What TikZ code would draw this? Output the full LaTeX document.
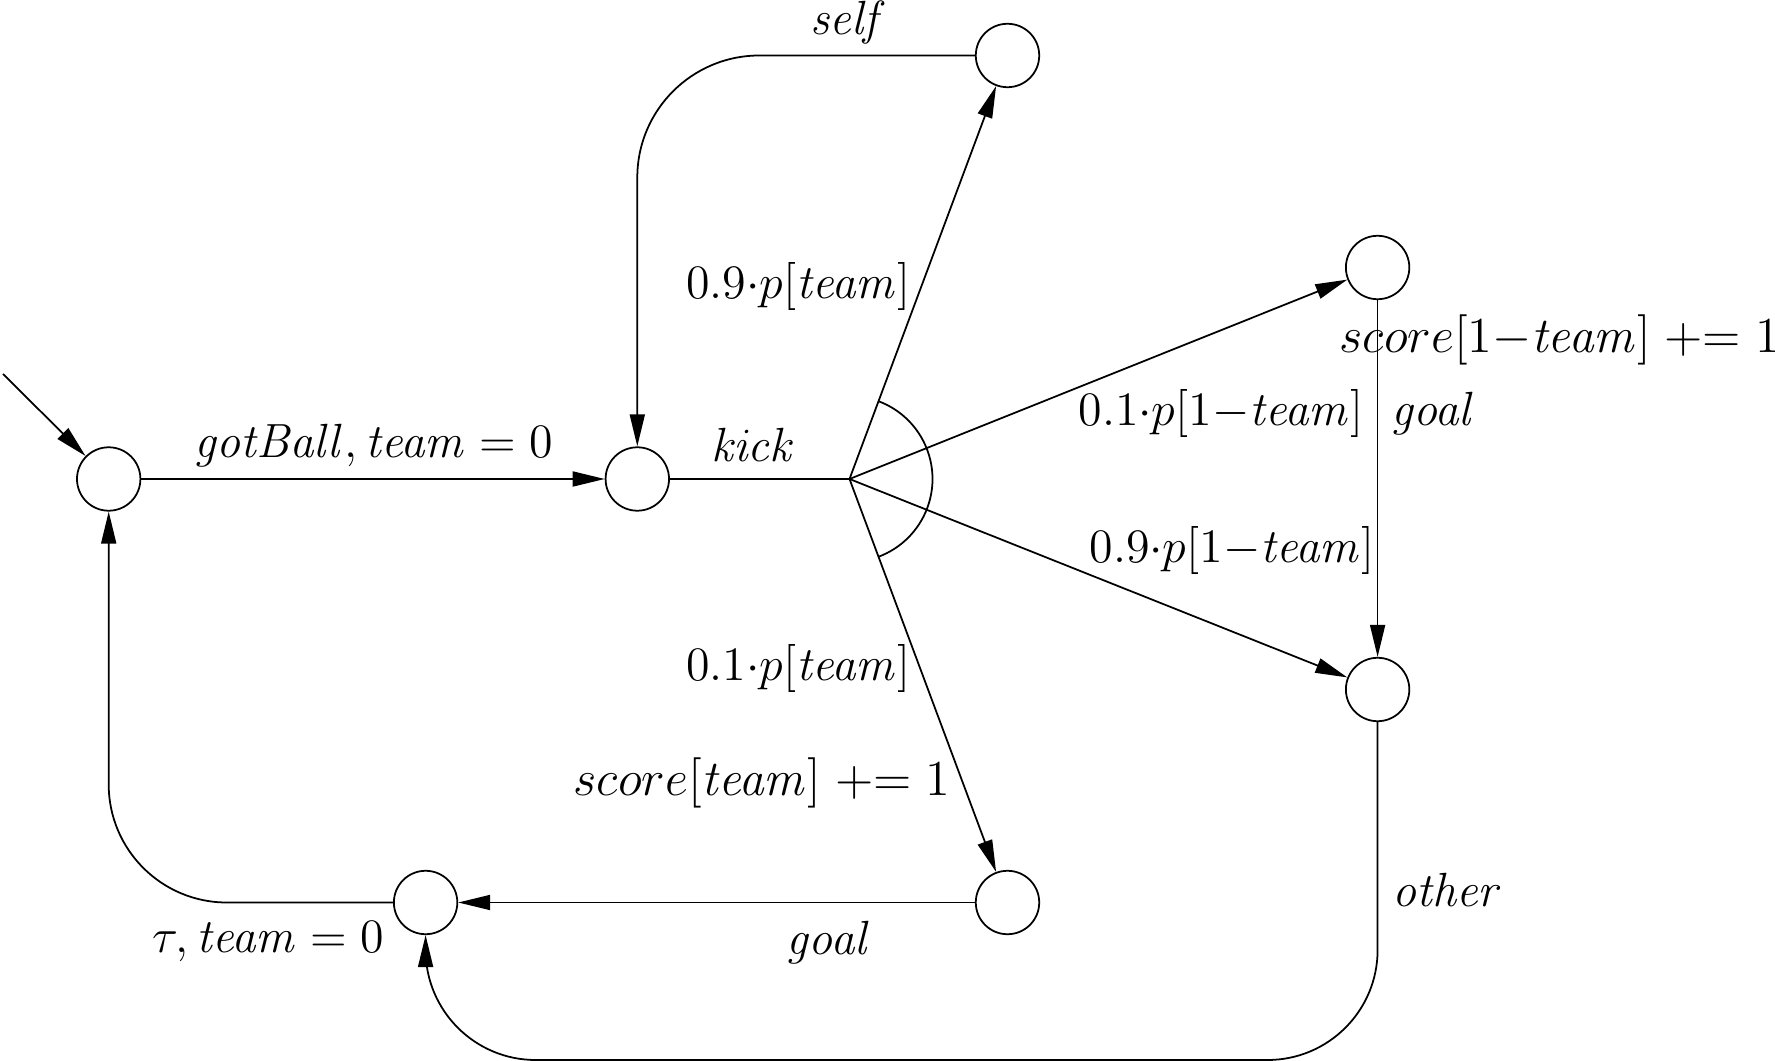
\RequirePackage{fix-cm}
\documentclass[tikz,border=0pt]{standalone}
\usetikzlibrary{arrows.meta,calc}
\begin{document}
\begin{tikzpicture}[x=0.01cm,y=-0.01cm,
  font=\fontsize{13.65}{16}\selectfont,
  state/.style={circle,draw,minimum size=0.634cm,inner sep=0pt,line width=0.5pt},
  edge/.style={line width=0.5pt},
  arr/.style={edge,-{Triangle[length=0.32cm,width=0.15cm]}},
  lbl/.style={inner sep=0pt},
  biglbl/.style={inner sep=0pt,font=\fontsize{14.3}{17}\selectfont}]
\useasboundingbox (0,0) rectangle (1775,1061);
\node[state] (A) at (108.7,479) {};
\node[state] (B) at (637.3,479) {};
\node[state] (S) at (1007.5,55.5) {};
\node[state] (T) at (1377.6,267.5) {};
\node[state] (R) at (1377.6,689.5) {};
\node[state] (G) at (1007.5,902.5) {};
\node[state] (U) at (425.6,902.5) {};
\coordinate (K) at (849.5,479);
\coordinate (init) at (3,374);
\coordinate (bot) at (900,1060);

\draw[arr] (init) -- (A);
\draw[arr] (A) -- (B);
\draw[edge] (B) -- (K);
\draw[arr] (K) -- (S);
\draw[arr] (K) -- (T);
\draw[arr] (K) -- (R);
\draw[arr] (K) -- (G);
\draw[edge] ([shift={(-69.5:83)}]K) arc[start angle=-69.5,end angle=69.5,radius=83];
\draw[arr,rounded corners=1.22cm] (S.west) -| (B.north);
\draw[arr,rounded corners=1.18cm] (U.west) -| (A.south);
\draw[arr] (T) -- (R);
\draw[arr] (G) -- (U);
\draw[arr,rounded corners=1.1cm] (R.south) |- (bot) -| (U.south);

\node[lbl] at (849,23) {$\mathit{self}$};
\node[lbl,anchor=east] at (911,287) {$0.9{\cdot}p[\mathit{team}]$};
\node[lbl] at (754,445) {$\mathit{kick}$};
\node[lbl] at (374,446) {$\mathit{gotBall}, \mathit{team}=0$};
\node[biglbl,anchor=west] at (1339,340) {$score[1{-}\mathit{team}] \mathrel{+}= 1$};
\node[lbl,anchor=east] at (1364,414) {$0.1{\cdot}p[1{-}\mathit{team}]$};
\node[lbl,anchor=west] at (1391,414) {$\mathit{goal}$};
\node[lbl,anchor=east] at (1375,551) {$0.9{\cdot}p[1{-}\mathit{team}]$};
\node[lbl,anchor=east] at (911,668) {$0.1{\cdot}p[\mathit{team}]$};
\node[biglbl,anchor=east] at (951,783) {$score[\mathit{team}] \mathrel{+}= 1$};
\node[lbl] at (829,942) {$\mathit{goal}$};
\node[lbl,anchor=east] at (385,942) {$\tau, \mathit{team}=0$};
\node[lbl,anchor=west] at (1392,890) {$\mathit{other}$};
\end{tikzpicture}
\end{document}
